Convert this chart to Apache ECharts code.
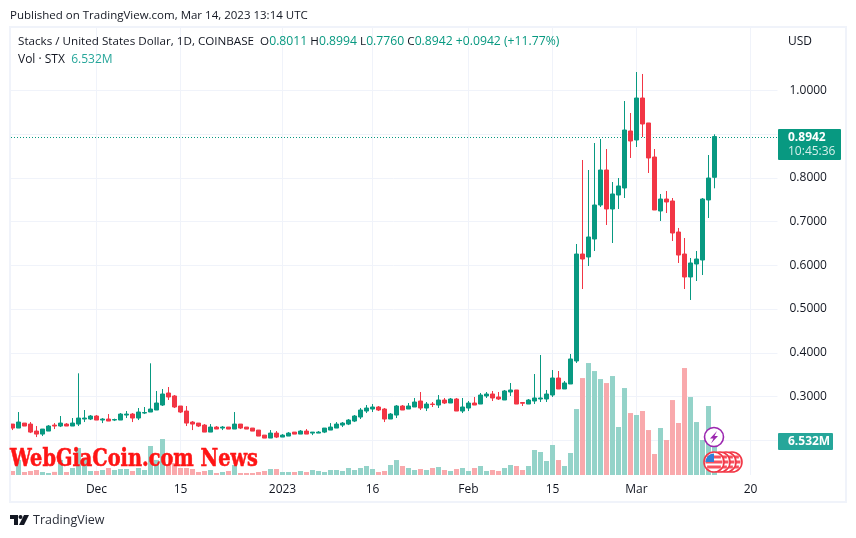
<!DOCTYPE html>
<html>
<head>
<meta charset="utf-8">
<title>STX/USD</title>
<script src="https://cdn.jsdelivr.net/npm/echarts@6/dist/echarts.min.js"></script>
<style>
html, body { margin: 0; padding: 0; background: #ffffff; }
#chart { width: 856px; height: 538px; }
</style>
</head>
<body>
<div id="chart"></div>
<script>
// daily candles, 17 Nov 2022 to 14 Mar 2023
const opens = [
  .2371,.2280,.2394,.2371,.2211,.2142,.2211,.2348,.2326,.2371,.2326,.2371,.2486,.2486,.2555,.2463,.2486,.2463,.2463,.2577,
  .2600,.2509,.2623,.2646,.2692,.2806,.3081,.3013,.2784,.2669,.2417,.2394,.2348,.2188,.2303,.2280,.2303,.2257,.2371,.2303,
  .2280,.2234,.2119,.2051,.2165,.2074,.2097,.2188,.2142,.2211,.2165,.2165,.2188,.2234,.2280,.2348,.2371,.2440,.2532,.2669,
  .2715,.2761,.2715,.2486,.2577,.2784,.2715,.2761,.2898,.2738,.2829,.2806,.2921,.2852,.2944,.2669,.2738,.2852,.2829,.3013,
  .3058,.2990,.2921,.3104,.3150,.2864,.2829,.2898,.2944,.2944,.3035,.3424,.3173,.3287,.3813,.6258,.6190,.6601,.7378,.8178,
  .7287,.7607,.7767,.9070,.8864,.9824,.9253,.8475,.7241,.7515,.7470,.6761,.6258,.5733,.6030,.6121,.7493,.8011
];
const closes = [
  .2280,.2417,.2326,.2188,.2142,.2257,.2326,.2326,.2394,.2326,.2394,.2509,.2509,.2555,.2463,.2486,.2440,.2475,.2600,.2600,
  .2509,.2646,.2635,.2715,.2852,.3058,.2990,.2761,.2646,.2394,.2371,.2326,.2188,.2303,.2257,.2303,.2257,.2371,.2280,.2257,
  .2211,.2097,.2051,.2165,.2074,.2119,.2165,.2142,.2211,.2142,.2188,.2188,.2280,.2303,.2371,.2394,.2463,.2555,.2692,.2738,
  .2761,.2692,.2486,.2600,.2784,.2692,.2784,.2875,.2738,.2829,.2818,.2921,.2852,.2944,.2669,.2761,.2852,.2806,.3035,.3058,
  .2967,.2944,.3127,.3150,.2829,.2846,.2921,.2967,.2967,.3058,.3424,.3173,.3310,.3859,.6258,.6144,.6647,.7378,.8178,.7287,
  .7630,.7813,.9092,.8841,.9824,.9230,.8453,.7264,.7515,.7447,.6738,.6235,.5733,.6053,.6144,.7515,.7995,.8942
];
const lows = [
  .2234,.2280,.2326,.2165,.2074,.2097,.2211,.2257,.2303,.2326,.2326,.2326,.2417,.2463,.2463,.2394,.2440,.2440,.2463,.2509,
  .2417,.2463,.2600,.2646,.2692,.2784,.2921,.2738,.2623,.2326,.2234,.2303,.2188,.2188,.2257,.2234,.2257,.2257,.2257,.2257,
  .2211,.2097,.2051,.2051,.2051,.2074,.2097,.2142,.2142,.2142,.2119,.2165,.2165,.2234,.2280,.2303,.2348,.2417,.2486,.2623,
  .2646,.2669,.2417,.2486,.2509,.2692,.2715,.2761,.2692,.2669,.2761,.2738,.2829,.2852,.2669,.2623,.2669,.2806,.2829,.2967,
  .2898,.2921,.2921,.3013,.2829,.2784,.2829,.2829,.2875,.2875,.2990,.3173,.3173,.3287,.3767,.5458,.5984,.6327,.7333,.6921,
  .6510,.7287,.7538,.8453,.8704,.8933,.8110,.7264,.7013,.7195,.6555,.6053,.5458,.5207,.5641,.5778,.7081,.7760
];
const highs = [
  .2371,.2646,.2394,.2417,.2326,.2257,.2348,.2394,.2555,.2394,.2509,.3531,.2692,.2577,.2577,.2509,.2600,.2495,.2623,.2669,
  .2623,.2738,.2761,.3760,.3127,.3173,.3218,.3035,.2784,.2784,.2440,.2394,.2371,.2371,.2326,.2326,.2303,.2646,.2371,.2303,
  .2280,.2234,.2119,.2234,.2211,.2142,.2188,.2188,.2234,.2257,.2188,.2211,.2280,.2394,.2417,.2417,.2486,.2577,.2738,.2806,
  .2829,.2784,.2738,.2623,.2806,.2806,.2852,.2967,.3104,.2875,.2875,.3035,.2967,.2967,.2967,.2967,.2898,.2990,.3081,.3104,
  .3127,.3104,.3150,.3310,.3150,.2875,.2944,.3515,.3950,.3150,.3607,.3584,.3355,.3973,.6487,.8407,.8178,.8795,.8887,.8658,
  .7904,.7995,.9755,.9481,1.0418,1.0373,.9253,.8658,.7630,.7698,.7538,.6853,.6624,.6167,.6327,.7538,.8521,.8994
];
// volume in millions
const volumes = [
  .77,2.88,.58,.77,.96,.58,.38,.6,2.9,.58,1.35,5.19,3.2,.77,.77,.96,1.35,.96,1.15,1.15,
  .77,1.35,.96,5.58,2.9,6.92,1.92,2.31,1.35,1.35,1.15,.58,.77,.96,.38,.58,.77,1.92,.38,.38,
  .38,.58,.77,1.15,1.15,.58,.58,.58,.77,.58,.96,.77,.58,.96,.96,.77,1.35,.96,1.35,1.73,
  1.15,.58,.77,1.92,2.88,1.73,1.35,.96,1.15,.96,1.35,1.54,.96,.77,1.15,1.35,.77,1.35,1.73,.77,
  .96,.77,1.35,1.92,1.73,.96,1.73,4.81,4.42,2.69,5.77,2.88,1.73,4.23,12.69,18.65,21.54,20.0,18.46,17.69,
  19.04,9.23,16.73,11.92,11.54,12.31,8.65,4.04,9.04,6.73,14.42,10.0,20.58,15.0,10.19,6.73,13.27,6.532
];
const tickDates = ['2022-12-01','2022-12-15','2023-01-01','2023-01-16','2023-02-01','2023-02-15','2023-03-01','2023-03-20'];
const tickLabels = ['Dec','15','2023','16','Feb','15','Mar','20'];
const priceLabels = [0.3,0.4,0.5,0.6,0.7,0.8,1.0];
const priceGrid = [0.2,0.3,0.4,0.5,0.6,0.7,0.8,0.9,1.0];
const lastPrice = 0.8942;

const UP = '#089981';
const DOWN = '#f23645';
const UP_VOL = '#94d3c9';
const DOWN_VOL = '#f9a9ac';
const TEXT = '#131722';
const FONT = '"Open Sans", sans-serif';

// one category per day, the axis runs past the last candle
let dates = [];
for (let d = new Date(Date.UTC(2022, 10, 17)), n = 0; n < 128; n++) {
  dates.push(d.toISOString().slice(0, 10));
  d.setUTCDate(d.getUTCDate() + 1);
}

const candles = opens.map((o, i) => [o, closes[i], lows[i], highs[i]]);
const volumeBars = volumes.map((v, i) => ({
  value: v,
  itemStyle: { color: closes[i] >= opens[i] ? UP_VOL : DOWN_VOL }
}));

// gridlines sit behind the candles
const gridLines = [
  ...tickDates.map(d => ({ xAxis: d, lineStyle: { color: '#f0f3fa', width: 1, type: 'solid' } })),
  ...priceGrid.map(p => ({ yAxis: p, lineStyle: { color: '#f0f3fa', width: 1, type: 'solid' } }))
];

function flag(cx, cy, r) {
  const stripes = [-5, 0, 5].map(dy => ({
    type: 'rect',
    z: 25,
    shape: { x: cx - Math.sqrt(r * r - dy * dy), y: cy + dy - 1.5, width: 2 * Math.sqrt(r * r - dy * dy), height: 3 },
    style: { fill: '#f7525f' }
  }));
  return [
    { type: 'circle', z: 25, shape: { cx: cx, cy: cy, r: r + 1.5 }, style: { fill: '#fff', stroke: '#f23645', lineWidth: 1.6 } },
    ...stripes
  ];
}

const option = {
  animation: false,
  backgroundColor: '#ffffff',
  textStyle: { fontFamily: FONT },
  grid: { left: 9.5, top: 28, width: 768, height: 447, containLabel: false },
  xAxis: {
    type: 'category',
    data: dates,
    axisLine: { show: false },
    axisTick: { show: false },
    splitLine: { show: false },
    axisLabel: {
      interval: (i, v) => tickDates.includes(v),
      formatter: v => tickLabels[tickDates.indexOf(v)],
      color: TEXT,
      fontSize: 12,
      fontFamily: FONT,
      margin: 9,
      hideOverlap: false
    }
  },
  yAxis: [
    {
      type: 'value',
      position: 'right',
      min: 0.1207,
      max: 1.1424,
      axisLine: { show: false },
      axisTick: { show: false },
      splitLine: { show: false },
      axisLabel: {
        customValues: priceLabels,
        formatter: v => v.toFixed(4),
        color: TEXT,
        fontSize: 12,
        fontFamily: FONT,
        margin: 12,
        padding: [4, 0, 0, 0]
      }
    },
    { type: 'value', min: 0, max: 86, show: false, splitLine: { show: false } }
  ],
  series: [
    {
      name: 'Vol',
      type: 'bar',
      yAxisIndex: 1,
      data: volumeBars,
      barWidth: 5,
      z: 2
    },
    {
      name: 'STX',
      type: 'candlestick',
      yAxisIndex: 0,
      data: candles,
      barWidth: 4,
      z: 3,
      itemStyle: { color: UP, color0: DOWN, borderColor: UP, borderColor0: DOWN, borderWidth: 1 },
      markLine: {
        silent: true,
        z: 1,
        symbol: 'none',
        label: { show: false },
        data: gridLines
      }
    }
  ],
  graphic: [
    // chart frame
    { type: 'rect', z: 20, shape: { x: 10, y: 27, width: 836, height: 475 }, style: { fill: 'none', stroke: '#f0f3fa', lineWidth: 2 } },
    { type: 'text', x: 10, y: 10, z: 20, style: { text: 'Published on TradingView.com, Mar 14, 2023 13:14 UTC', font: '11.5px ' + FONT, fill: TEXT } },
    { type: 'text', x: 788, y: 36, z: 20, style: { text: 'USD', font: '12px ' + FONT, fill: TEXT } },
    { type: 'text', x: 18, y: 36, z: 20, style: {
      text: '{t|Stacks / United States Dollar, 1D, COINBASE  O}{g|0.8011} {t|H}{g|0.8994} {t|L}{g|0.7760} {t|C}{g|0.8942} {g|+0.0942 (+11.77%)}',
      font: '12px ' + FONT, fill: TEXT,
      rich: { t: { fill: TEXT, font: '11.65px ' + FONT }, g: { fill: UP, font: '12.2px ' + FONT } }
    } },
    { type: 'text', x: 18, y: 54, z: 20, style: {
      text: 'Vol · STX  {g|6.532M}',
      font: '12px ' + FONT, fill: TEXT,
      rich: { g: { fill: '#26a69a', font: '12px ' + FONT } }
    } },
    // last price tag
    { type: 'rect', z: 20, shape: { x: 778, y: 129, width: 63, height: 31, r: 1 }, style: { fill: UP } },
    { type: 'text', x: 788, y: 132, z: 21, style: { text: '0.8942', font: 'bold 12px ' + FONT, fill: '#ffffff' } },
    { type: 'text', x: 788, y: 146, z: 21, style: { text: '10:45:36', font: '12px ' + FONT, fill: '#d5f0eb' } },
    // volume tag
    { type: 'rect', z: 20, shape: { x: 778, y: 433, width: 55, height: 17, r: 1 }, style: { fill: '#26a69a' } },
    { type: 'text', x: 788, y: 436, z: 21, style: { text: '6.532M', font: 'bold 12px ' + FONT, fill: '#ffffff' } },
    // event markers
    ...flag(732, 462, 8.5), ...flag(726, 462, 8.5), ...flag(720, 462, 8.5), ...flag(714, 462, 8.5),
    { type: 'sector', z: 25, shape: { cx: 714, cy: 462, r: 8.5, r0: 0, startAngle: Math.PI, endAngle: Math.PI * 1.5 }, style: { fill: '#2f80d8' } },
    { type: 'circle', z: 25, shape: { cx: 714, cy: 437, r: 9.5 }, style: { fill: '#ffffff', stroke: '#9c27b0', lineWidth: 1.6 } },
    { type: 'polygon', z: 25, shape: { points: [[717, 431], [710, 438.5], [713.5, 438.5], [711, 443.5], [718, 436], [714.5, 436]] }, style: { fill: '#9c27b0' } },
    // watermark
    { type: 'text', x: 10, y: 448, z: 30, scaleX: 0.805, style: {
      text: 'WebGiaCoin.com News', font: 'bold 24px "DejaVu Serif", serif', fill: '#ff1414', stroke: '#ff1414', lineWidth: 0.6
    } },
    // footer logo
    { type: 'polygon', z: 20, shape: { points: [[10, 515], [18, 515], [18, 525], [14, 525], [14, 519], [10, 519]] }, style: { fill: TEXT } },
    { type: 'circle', z: 20, shape: { cx: 20.5, cy: 517, r: 2 }, style: { fill: TEXT } },
    { type: 'polygon', z: 20, shape: { points: [[24, 515], [29, 515], [24, 525], [19, 525]] }, style: { fill: TEXT } },
    { type: 'text', x: 33, y: 514, z: 20, style: { text: 'TradingView', font: '12.5px ' + FONT, fill: '#2a2e39' } }
  ]
};

const chart = echarts.init(document.getElementById('chart'));
chart.setOption(option);

// dotted last price line, snapped to a pixel row so the dots stay crisp
const lastY = Math.round(chart.convertToPixel({ yAxisIndex: 0 }, lastPrice)) + 0.5;
option.graphic.push({
  type: 'line',
  z: 1,
  shape: { x1: 11, y1: lastY, x2: 777, y2: lastY },
  style: { stroke: UP, lineWidth: 1, lineDash: [1, 2] }
});
chart.setOption(option);
</script>
</body>
</html>
